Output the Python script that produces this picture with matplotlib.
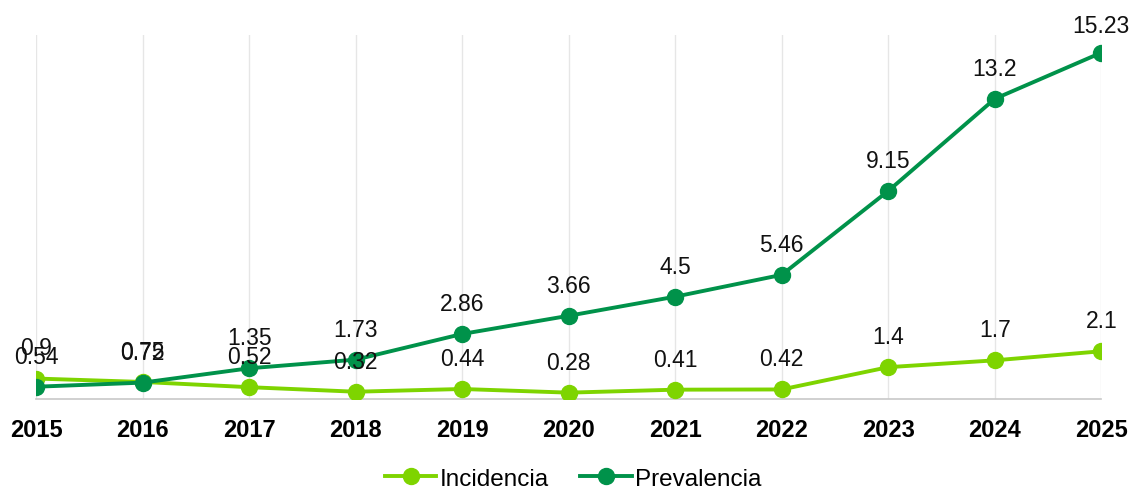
import matplotlib
matplotlib.use("Agg")
import matplotlib.pyplot as plt

plt.rcParams['font.family'] = ['Liberation Sans', 'DejaVu Sans']

years = ["2015", "2016", "2017", "2018", "2019", "2020", "2021", "2022", "2023", "2024", "2025"]
incidencia = [0.9, 0.75, 0.52, 0.32, 0.44, 0.28, 0.41, 0.42, 1.4, 1.7, 2.1]
prevalencia = [0.54, 0.72, 1.35, 1.73, 2.86, 3.66, 4.5, 5.46, 9.15, 13.2, 15.23]

c_inc = "#7ED400"
c_prev = "#00924A"

fig = plt.figure(figsize=(11.33, 4.89), dpi=100)
ax = fig.add_axes([0.0318, 0.182, 0.9402, 0.744])

x = list(range(len(years)))
ax.plot(x, incidencia, color=c_inc, lw=2.8, marker='o', ms=11.5, label="Incidencia", zorder=3)
ax.plot(x, prevalencia, color=c_prev, lw=2.8, marker='o', ms=11.5, label="Prevalencia", zorder=4)

def fmt(v):
    return f"{v:.2f}".rstrip('0').rstrip('.')

for series in (incidencia, prevalencia):
    for xi, v in zip(x, series):
        off = 22 if v < 15 else 19.5
        ax.annotate(fmt(v), (xi, v), xytext=(0, off), textcoords='offset points',
                    ha='center', va='center', fontsize=16.5, color='#111111', zorder=6,
                    annotation_clip=False)

ax.set_xlim(0, len(years) - 1)
ax.set_ylim(0, 16)
ax.set_xticks(x)
ax.set_xticklabels(years, fontsize=17, fontweight='bold')
ax.set_yticks([])
ax.tick_params(axis='x', length=0, pad=14)
ax.grid(axis='x', color='#e6e6e6', lw=1)
ax.set_axisbelow(True)
for s in ['top', 'right', 'left']:
    ax.spines[s].set_visible(False)
ax.spines['bottom'].set_color('#c8c8c8')
ax.spines['bottom'].set_linewidth(1.2)

fig.legend(loc='center', bbox_to_anchor=(0.506, 0.019), ncol=2, frameon=False,
           fontsize=17.5, handlelength=2.1, columnspacing=1.3, handletextpad=0.15,
           borderpad=0.1)

fig.savefig("out.png", dpi=100)
